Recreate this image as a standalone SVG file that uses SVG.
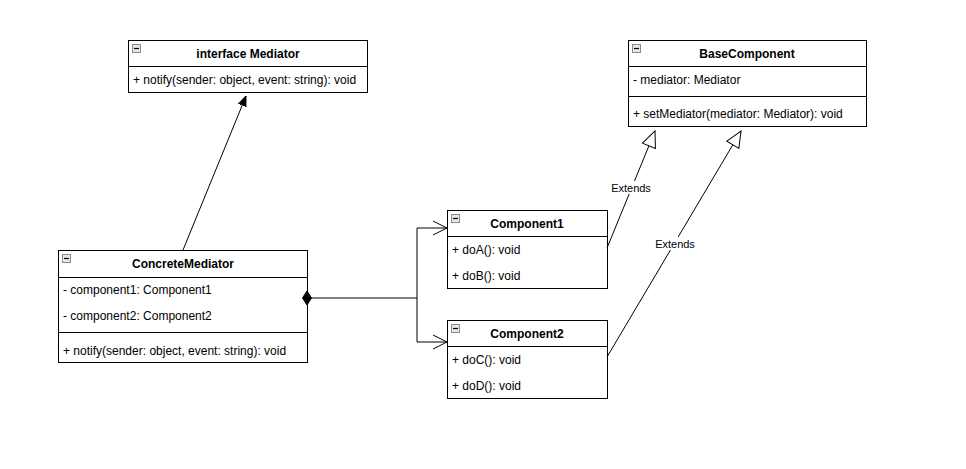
<svg xmlns="http://www.w3.org/2000/svg" width="966" height="469" viewBox="0 0 966 469">
  <style>
    .box { fill: #ffffff; stroke: #000000; stroke-width: 1; }
    .sep { stroke: #000000; stroke-width: 1; }
    .title { font-family: "Liberation Sans", Arial, sans-serif; font-size: 12px; font-weight: bold; fill: #000000; text-anchor: middle; }
    .member { font-family: "Liberation Sans", Arial, sans-serif; font-size: 12px; fill: #000000; }
    .label { font-family: "Liberation Sans", Arial, sans-serif; font-size: 11px; fill: #000000; text-anchor: middle; }
    .icon { fill: #e6e6e6; stroke: #8a8a8a; stroke-width: 1; }
    .iconbar { stroke: #000000; stroke-width: 1.2; }
    .edge { fill: none; stroke: #000000; stroke-width: 1; }
  </style>
  <defs>
    <marker id="filled" viewBox="0 0 10 10" refX="10" refY="5" markerWidth="10" markerHeight="10" markerUnits="userSpaceOnUse" orient="auto">
      <path d="M0,1 L10,5 L0,9 Z" fill="#000000" stroke="#000000" stroke-width="1"/>
    </marker>
    <marker id="open" viewBox="0 0 15 16" refX="14" refY="8" markerWidth="15" markerHeight="16" markerUnits="userSpaceOnUse" orient="auto">
      <path d="M0,1 L14,8 L0,15" fill="none" stroke="#000000" stroke-width="1"/>
    </marker>
    <marker id="hollow" viewBox="0 0 18 16" refX="17" refY="8" markerWidth="18" markerHeight="16" markerUnits="userSpaceOnUse" orient="auto">
      <path d="M1,1 L17,8 L1,15 Z" fill="#ffffff" stroke="#000000" stroke-width="1"/>
    </marker>
  </defs>

  <!-- interface Mediator -->
  <g id="mediator">
    <rect class="box" x="128.5" y="40.5" width="239" height="52"/>
    <line class="sep" x1="128.5" y1="66.5" x2="367.5" y2="66.5"/>
    <rect class="icon" x="132.5" y="44.5" width="8" height="8"/>
    <line class="iconbar" x1="134" y1="48.5" x2="139" y2="48.5"/>
    <text class="title" x="248" y="58">interface Mediator</text>
    <text class="member" x="133" y="84">+ notify(sender: object, event: string): void</text>
  </g>

  <!-- BaseComponent -->
  <g id="base-component">
    <rect class="box" x="628.5" y="40.5" width="238" height="86"/>
    <line class="sep" x1="628.5" y1="66.5" x2="866.5" y2="66.5"/>
    <line class="sep" x1="628.5" y1="96.5" x2="866.5" y2="96.5"/>
    <rect class="icon" x="632.5" y="44.5" width="8" height="8"/>
    <line class="iconbar" x1="634" y1="48.5" x2="639" y2="48.5"/>
    <text class="title" x="747" y="58">BaseComponent</text>
    <text class="member" x="633" y="84">- mediator: Mediator</text>
    <text class="member" x="633" y="118">+ setMediator(mediator: Mediator): void</text>
  </g>

  <!-- ConcreteMediator -->
  <g id="concrete-mediator">
    <rect class="box" x="58.5" y="250.5" width="249" height="112"/>
    <line class="sep" x1="58.5" y1="277.5" x2="307.5" y2="277.5"/>
    <line class="sep" x1="58.5" y1="332.5" x2="307.5" y2="332.5"/>
    <rect class="icon" x="62.5" y="254.5" width="8" height="8"/>
    <line class="iconbar" x1="64" y1="258.5" x2="69" y2="258.5"/>
    <text class="title" x="183" y="268">ConcreteMediator</text>
    <text class="member" x="63" y="294">- component1: Component1</text>
    <text class="member" x="63" y="320">- component2: Component2</text>
    <text class="member" x="63" y="355">+ notify(sender: object, event: string): void</text>
  </g>

  <!-- Component1 -->
  <g id="component1">
    <rect class="box" x="447.5" y="210.5" width="160" height="78"/>
    <line class="sep" x1="447.5" y1="236.5" x2="607.5" y2="236.5"/>
    <rect class="icon" x="451.5" y="214.5" width="8" height="8"/>
    <line class="iconbar" x1="453" y1="218.5" x2="458" y2="218.5"/>
    <text class="title" x="527" y="228">Component1</text>
    <text class="member" x="452" y="254">+ doA(): void</text>
    <text class="member" x="452" y="280">+ doB(): void</text>
  </g>

  <!-- Component2 -->
  <g id="component2">
    <rect class="box" x="447.5" y="320.5" width="160" height="78"/>
    <line class="sep" x1="447.5" y1="346.5" x2="607.5" y2="346.5"/>
    <rect class="icon" x="451.5" y="324.5" width="8" height="8"/>
    <line class="iconbar" x1="453" y1="328.5" x2="458" y2="328.5"/>
    <text class="title" x="527" y="338">Component2</text>
    <text class="member" x="452" y="364">+ doC(): void</text>
    <text class="member" x="452" y="390">+ doD(): void</text>
  </g>

  <!-- connectors, drawn on top so the composition diamond sits over the box edge -->
  <g id="connectors">
    <path class="edge" d="M183,250 L246,96" marker-end="url(#filled)"/>
    <path class="edge" d="M307,298 L417,298"/>
    <path d="M307,291 L311.5,298 L307,305 L302.5,298 Z" fill="#000000" stroke="#000000" stroke-width="1"/>
    <path class="edge" d="M417,298 L417,228 L447,228" marker-end="url(#open)"/>
    <path class="edge" d="M417,298 L417,342 L447,342" marker-end="url(#open)"/>
    <path class="edge" d="M607,248 L655,131" marker-end="url(#hollow)"/>
    <path class="edge" d="M607,357 L741,131" marker-end="url(#hollow)"/>
    <rect x="610" y="181" width="42" height="13" fill="#ffffff"/>
    <text class="label" x="631" y="192">Extends</text>
    <rect x="654" y="237" width="42" height="13" fill="#ffffff"/>
    <text class="label" x="675" y="248">Extends</text>
  </g>
</svg>
